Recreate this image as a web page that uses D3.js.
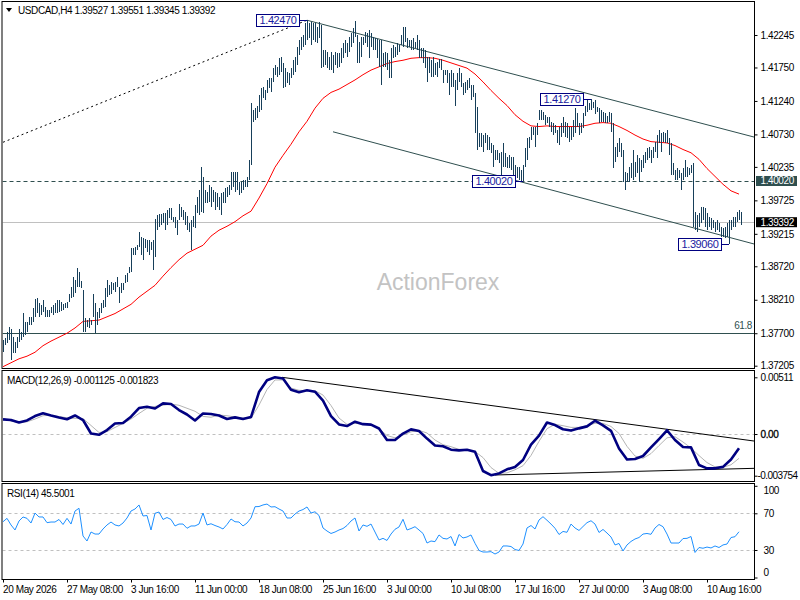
<!DOCTYPE html>
<html><head><meta charset="utf-8">
<script src="https://cdn.jsdelivr.net/npm/d3@7/dist/d3.min.js"></script>
<style>
body{margin:0;background:#fff}
text{font-family:"Liberation Sans",Arial,sans-serif;font-size:10px;letter-spacing:-0.4px}
</style></head><body>
<svg id="c" width="800" height="600"></svg>
<script>
// ---------------- DATA ----------------
const symbol = "USDCAD,H4";
const lastOHLC = ["1.39527", "1.39551", "1.39345", "1.39392"];
const lastClose = 1.39392;

// x axis labels and the bar index each one sits on
const timeLabels = ["20 May 2026","27 May 08:00","3 Jun 16:00","11 Jun 00:00","18 Jun 08:00","25 Jun 16:00","3 Jul 00:00","10 Jul 08:00","17 Jul 16:00","27 Jul 00:00","3 Aug 08:00","10 Aug 16:00"];
const timeLabelBars = [0,32,64,96,128,160,192,224,256,288,320,352];

// right-hand price axis labels
const priceTicks = [1.42245,1.41750,1.41240,1.40730,1.40235,1.39725,1.39215,1.38720,1.38210,1.37700,1.37205];

// H4 bar highs and lows (370 bars)
const highs = [
1.3760,1.3763,1.3772,1.3780,1.3776,1.3764,1.3757,1.3764,1.3776,1.3772,
1.3801,1.3787,1.3787,1.3795,1.3795,1.3808,1.3822,1.3824,1.3816,1.3813,
1.3821,1.3810,1.3805,1.3805,1.3810,1.3813,1.3816,1.3821,1.3821,1.3818,
1.3815,1.3816,1.3818,1.3830,1.3840,1.3856,1.3851,1.3869,1.3863,1.3850,
1.3836,1.3793,1.3790,1.3793,1.3790,1.3830,1.3816,1.3802,1.3808,1.3816,
1.3821,1.3839,1.3851,1.3844,1.3848,1.3847,1.3848,1.3856,1.3841,1.3847,
1.3847,1.3859,1.3862,1.3871,1.3900,1.3900,1.3901,1.3904,1.3924,1.3917,
1.3915,1.3914,1.3912,1.3912,1.3909,1.3912,1.3944,1.3950,1.3952,1.3952,
1.3953,1.3953,1.3958,1.3961,1.3961,1.3947,1.3947,1.3943,1.3967,1.3962,
1.3958,1.3955,1.3949,1.3938,1.3943,1.3949,1.3965,1.3978,1.3988,1.4023,
1.4008,1.3988,1.3985,1.3996,1.3993,1.3988,1.3985,1.3984,1.3978,1.3984,
1.3985,1.3991,1.3993,1.3996,1.4016,1.4016,1.4016,1.4016,1.4000,1.4000,
1.4003,1.4003,1.4008,1.4034,1.4121,1.4110,1.4113,1.4117,1.4133,1.4144,
1.4145,1.4141,1.4156,1.4159,1.4159,1.4174,1.4179,1.4176,1.4189,1.4191,
1.4182,1.4174,1.4168,1.4167,1.4174,1.4186,1.4191,1.4206,1.4217,1.4221,
1.4224,1.4243,1.4247,1.4243,1.4244,1.4243,1.4243,1.4237,1.4244,1.4240,
1.4202,1.4202,1.4199,1.4191,1.4199,1.4194,1.4199,1.4197,1.4197,1.4205,
1.4212,1.4217,1.4212,1.4221,1.4228,1.4235,1.4246,1.4224,1.4214,1.4221,
1.4221,1.4229,1.4228,1.4232,1.4228,1.4221,1.4220,1.4218,1.4217,1.4217,
1.4197,1.4199,1.4197,1.4186,1.4205,1.4209,1.4206,1.4212,1.4209,1.4224,
1.4237,1.4237,1.4220,1.4217,1.4217,1.4220,1.4214,1.4224,1.4217,1.4205,
1.4205,1.4202,1.4191,1.4191,1.4186,1.4191,1.4182,1.4183,1.4188,1.4188,
1.4171,1.4171,1.4171,1.4167,1.4171,1.4167,1.4156,1.4167,1.4174,1.4167,
1.4151,1.4153,1.4156,1.4159,1.4148,1.4148,1.4136,1.4115,1.4075,1.4075,
1.4072,1.4075,1.4072,1.4069,1.4060,1.4057,1.4049,1.4049,1.4045,1.4046,
1.4060,1.4045,1.4039,1.4042,1.4039,1.4039,1.4026,1.4023,1.4023,1.4019,
1.4026,1.4052,1.4068,1.4069,1.4084,1.4084,1.4084,1.4090,1.4110,1.4110,
1.4107,1.4102,1.4099,1.4099,1.4092,1.4090,1.4087,1.4080,1.4084,1.4090,
1.4099,1.4092,1.4090,1.4084,1.4084,1.4095,1.4113,1.4106,1.4090,1.4090,
1.4106,1.4117,1.4125,1.4121,1.4127,1.4122,1.4125,1.4115,1.4113,1.4110,
1.4107,1.4106,1.4101,1.4107,1.4106,1.4090,1.4054,1.4060,1.4068,1.4060,
1.4049,1.4016,1.4014,1.4023,1.4029,1.4049,1.4031,1.4042,1.4037,1.4034,
1.4042,1.4046,1.4052,1.4054,1.4049,1.4054,1.4061,1.4072,1.4080,1.4075,
1.4077,1.4075,1.4080,1.4068,1.4060,1.4029,1.4019,1.4022,1.4019,1.4014,
1.4022,1.4034,1.4023,1.4022,1.4026,1.4029,1.3955,1.3950,1.3953,1.3962,
1.3962,1.3961,1.3953,1.3947,1.3946,1.3943,1.3940,1.3943,1.3938,1.3932,
1.3930,1.3932,1.3938,1.3943,1.3943,1.3947,1.3947,1.3955,1.3958,1.39551];
const lows = [
1.3741,1.3752,1.3755,1.3760,1.3729,1.3740,1.3740,1.3747,1.3757,1.3760,
1.3764,1.3767,1.3772,1.3783,1.3783,1.3787,1.3795,1.3801,1.3795,1.3798,
1.3802,1.3795,1.3795,1.3795,1.3801,1.3798,1.3801,1.3801,1.3802,1.3804,
1.3805,1.3808,1.3808,1.3818,1.3824,1.3825,1.3831,1.3841,1.3841,1.3839,
1.3772,1.3772,1.3780,1.3778,1.3783,1.3795,1.3770,1.3783,1.3793,1.3801,
1.3808,1.3810,1.3825,1.3828,1.3830,1.3836,1.3833,1.3841,1.3816,1.3831,
1.3836,1.3847,1.3848,1.3862,1.3863,1.3889,1.3889,1.3897,1.3901,1.3889,
1.3882,1.3900,1.3894,1.3889,1.3897,1.3866,1.3886,1.3927,1.3932,1.3935,
1.3938,1.3927,1.3935,1.3946,1.3943,1.3940,1.3930,1.3920,1.3943,1.3947,
1.3943,1.3935,1.3927,1.3924,1.3897,1.3932,1.3930,1.3953,1.3950,1.3955,
1.3953,1.3968,1.3968,1.3970,1.3962,1.3970,1.3958,1.3962,1.3958,1.3950,
1.3968,1.3968,1.3978,1.3981,1.3988,1.3993,1.3985,1.3988,1.3981,1.3984,
1.3988,1.3993,1.3993,1.4003,1.4026,1.4092,1.4095,1.4098,1.4107,1.4110,
1.4128,1.4125,1.4136,1.4144,1.4138,1.4153,1.4164,1.4161,1.4164,1.4168,
1.4144,1.4145,1.4151,1.4148,1.4159,1.4164,1.4168,1.4179,1.4194,1.4202,
1.4206,1.4209,1.4217,1.4220,1.4209,1.4217,1.4214,1.4212,1.4220,1.4174,
1.4176,1.4179,1.4174,1.4171,1.4171,1.4167,1.4179,1.4174,1.4176,1.4182,
1.4189,1.4197,1.4191,1.4199,1.4206,1.4212,1.4221,1.4182,1.4182,1.4191,
1.4209,1.4212,1.4206,1.4189,1.4206,1.4202,1.4202,1.4189,1.4176,1.4148,
1.4176,1.4176,1.4171,1.4159,1.4159,1.4189,1.4191,1.4194,1.4199,1.4209,
1.4206,1.4214,1.4205,1.4206,1.4202,1.4202,1.4205,1.4202,1.4189,1.4189,
1.4182,1.4174,1.4153,1.4167,1.4161,1.4161,1.4164,1.4161,1.4174,1.4171,
1.4151,1.4164,1.4151,1.4133,1.4145,1.4145,1.4117,1.4141,1.4153,1.4145,
1.4133,1.4136,1.4141,1.4144,1.4125,1.4130,1.4075,1.4049,1.4054,1.4054,
1.4046,1.4060,1.4049,1.4049,1.4045,1.4023,1.4034,1.4034,1.4029,1.4008,
1.4023,1.4023,1.4022,1.4022,1.4019,1.4007,1.4008,1.4007,1.4004,1.4001,
1.4002,1.4023,1.4034,1.4052,1.4064,1.4072,1.4054,1.4072,1.4095,1.4095,
1.4095,1.4087,1.4090,1.4084,1.4077,1.4072,1.4075,1.4060,1.4057,1.4069,
1.4075,1.4069,1.4068,1.4061,1.4064,1.4069,1.4075,1.4084,1.4072,1.4075,
1.4083,1.4101,1.4107,1.4110,1.4110,1.4113,1.4104,1.4107,1.4090,1.4092,
1.4092,1.4090,1.4090,1.4092,1.4077,1.4022,1.4031,1.4039,1.4046,1.4039,
1.4000,1.3988,1.4000,1.4001,1.4007,1.4004,1.4008,1.4014,1.4001,1.4016,
1.4022,1.4029,1.4034,1.4037,1.4029,1.4037,1.4046,1.4037,1.4060,1.4046,
1.4061,1.4060,1.4060,1.4042,1.4011,1.4011,1.4004,1.4004,1.4007,1.3988,
1.4004,1.4008,1.4008,1.4011,1.4014,1.3932,1.3927,1.3924,1.3932,1.3938,
1.3943,1.3932,1.3927,1.3932,1.3927,1.3930,1.3924,1.3927,1.3924,1.3917,
1.3917,1.3915,1.3917,1.3906,1.3927,1.3932,1.3932,1.3940,1.3943,1.39345];

// red moving average, one value every 4 bars
const maStep = 4;
const maValues = [
1.3719,1.3725,1.3731,1.3735,1.3741,1.3751,1.3758,1.3764,1.3770,1.3778,
1.3788,1.3789,1.3790,1.3795,1.3800,1.3807,1.3814,1.3825,1.3834,1.3843,
1.3857,1.3870,1.3882,1.3892,1.3898,1.3904,1.3918,1.3927,1.3933,1.3940,
1.3949,1.3956,1.3976,1.3998,1.4023,1.4041,1.4058,1.4077,1.4093,1.4113,
1.4128,1.4137,1.4142,1.4149,1.4156,1.4164,1.4171,1.4176,1.4181,1.4184,
1.4186,1.4189,1.4190,1.4190,1.4189,1.4186,1.4182,1.4178,1.4174,1.4165,
1.4153,1.4140,1.4128,1.4117,1.4103,1.4093,1.4086,1.4085,1.4086,1.4085,
1.4085,1.4085,1.4085,1.4087,1.4090,1.4091,1.4090,1.4085,1.4079,1.4072,
1.4066,1.4062,1.4061,1.4060,1.4056,1.4050,1.4045,1.4035,1.4021,1.4009,
1.3997,1.3987,1.3982];

// MACD(12,26,9): main line and signal line, one value every 4 bars
const macdStep = 4;
const macdMain = [
0.00132,0.00126,0.00104,0.00122,0.00162,0.00187,0.00167,0.00149,0.00133,0.00167,
0.00126,0.00005,-0.00007,0.00036,0.00095,0.00099,0.00156,0.00234,0.00245,0.00230,
0.00276,0.00270,0.00216,0.00176,0.00122,0.00185,0.00180,0.00167,0.00135,0.00150,
0.00135,0.00153,0.00378,0.00484,0.00511,0.00500,0.00399,0.00377,0.00394,0.00381,
0.00300,0.00162,0.00086,0.00072,0.00111,0.00089,0.00085,0.00050,-0.00054,-0.00054,
0.00004,0.00042,0.00027,-0.00041,-0.00103,-0.00110,-0.00141,-0.00147,-0.00141,-0.00159,
-0.00333,-0.00371,-0.00355,-0.00318,-0.00297,-0.00234,-0.00096,-0.00014,0.00104,0.00081,
0.00043,0.00031,0.00051,0.00069,0.00120,0.00078,0.00029,-0.00131,-0.00230,-0.00225,
-0.00198,-0.00121,-0.00045,0.00034,-0.00054,-0.00117,-0.00120,-0.00279,-0.00309,-0.00309,
-0.00296,-0.00230,-0.00129];
const macdSignal = [
0.00141,0.00117,0.00105,0.00110,0.00135,0.00165,0.00169,0.00158,0.00146,0.00141,
0.00139,0.00077,0.00014,0.00022,0.00059,0.00095,0.00135,0.00185,0.00232,0.00249,
0.00259,0.00270,0.00259,0.00232,0.00205,0.00159,0.00151,0.00171,0.00165,0.00153,
0.00144,0.00141,0.00261,0.00401,0.00487,0.00487,0.00414,0.00394,0.00390,0.00390,
0.00351,0.00257,0.00144,0.00087,0.00096,0.00090,0.00083,0.00050,-0.00014,-0.00034,
-0.00009,0.00020,0.00033,0.00009,-0.00054,-0.00096,-0.00114,-0.00138,-0.00146,-0.00158,
-0.00212,-0.00302,-0.00354,-0.00350,-0.00322,-0.00285,-0.00193,-0.00066,0.00048,0.00088,
0.00075,0.00060,0.00060,0.00074,0.00097,0.00096,0.00068,0.00005,-0.00111,-0.00198,
-0.00219,-0.00176,-0.00104,-0.00034,-0.00024,-0.00072,-0.00126,-0.00194,-0.00257,-0.00296,
-0.00300,-0.00277,-0.00219];
const macdLabels = ["0.00511","0.00","-0.003754"];
const macdTicks = [0.00511, 0, -0.003754];
const macdHeader = "MACD(12,26,9) -0.001125 -0.001823";

// RSI(14), one value every 2 bars
const rsiStep = 2;
const rsiValues = [
60.8,64.5,57.3,51.8,61.6,66.0,64.5,59.4,70.3,66.0,
66.0,59.8,60.5,60.5,63.3,57.8,64.5,58.3,72.5,75.5,
45.3,39.8,49.6,47.4,47.4,52.9,57.3,60.5,57.3,56.2,
59.4,64.9,72.5,74.7,79.1,67.1,67.6,51.8,70.0,71.4,
63.3,65.4,63.3,56.2,58.3,58.3,53.7,56.2,56.2,58.3,
70.3,57.3,58.6,56.7,55.1,52.9,57.8,63.8,60.8,60.5,
56.2,59.4,
64.9,77.2,77.4,79.1,80.1,76.9,77.2,74.7,72.5,64.9,
64.9,69.2,72.5,74.1,76.9,70.3,71.7,67.6,54.0,50.7,
48.0,49.6,51.8,53.4,56.7,61.6,64.9,50.7,57.3,55.8,
58.3,49.6,40.9,42.7,40.4,47.4,52.6,55.1,63.5,51.8,
53.4,55.4,51.8,48.0,37.6,39.8,39.1,46.4,42.7,42.0,
44.7,34.4,46.9,43.1,44.2,46.4,37.3,29.5,27.8,27.8,
28.2,25.6,
27.8,34.4,34.4,33.8,30.5,29.5,36.5,54.0,56.7,52.9,
62.7,66.3,62.4,58.3,53.7,46.9,50.2,49.3,58.3,54.0,
51.3,55.6,59.8,61.9,58.3,49.1,52.4,48.5,44.2,35.5,
37.1,28.9,35.5,39.3,42.0,43.6,47.4,48.0,47.1,54.0,
57.8,55.4,47.4,37.6,37.6,37.6,42.5,42.7,44.7,27.3,
32.7,31.9,33.2,32.2,34.4,32.7,35.5,36.5,43.6,44.5,
49.9];
const rsiTicks = [100,70,30,0];
const rsiHeader = "RSI(14) 45.5001";

// annotated swing points: bar index, price
const swingBars = [152, 294, 260, 363];
const swingPrices = [1.42470, 1.41270, 1.40020, 1.39060];
const swingTexts = ["1.42470","1.41270","1.40020","1.39060"];

// drawn lines (bar index, value)
const dottedLine = [[0,1.4061],[152,1.4247]];
const channelUpper = [[152,1.4247],[375.5,1.4069]];
const channelLower = [[165,1.4077],[375.5,1.3906]];
const levelLine = 1.40020;     // dashed horizontal
const fibLevel = 1.37700;      // 61.8 retracement
const fibText = "61.8";
const macdUpper = [[139.5,0.00511],[375.5,-0.00063]];
const macdLower = [[246,-0.00369],[375.5,-0.00309]];

// ---------------- DRAWING ----------------
const svg = d3.select('#c');
svg.append('rect').attr('width',800).attr('height',600).attr('fill','#fff');

const LEFT = 2.5, RIGHT = 754.5;
const panels = {
  price: {top:1.5, bot:368.5},
  macd:  {top:370.5, bot:481.5},
  rsi:   {top:483.5, bot:579.5}
};

const x = d3.scaleLinear().domain([0,369]).range([3,741]);
const y = d3.scaleLinear().domain([1.37205,1.42245]).range([365.7,35]);
const ym = d3.scaleLinear().domain([-0.003754,0.00511]).range([475.7,377.3]);
const yr = d3.scaleLinear().domain([0,100]).range([577.5,485.8]);

const defs = svg.append('defs');
Object.entries(panels).forEach(([k,p])=>{
  defs.append('clipPath').attr('id','clip-'+k).append('rect')
    .attr('x',LEFT).attr('y',p.top).attr('width',RIGHT-LEFT).attr('height',p.bot-p.top);
});

const gP = svg.append('g').attr('clip-path','url(#clip-price)');
const gM = svg.append('g').attr('clip-path','url(#clip-macd)');
const gR = svg.append('g').attr('clip-path','url(#clip-rsi)');

const px = v => Math.round(v)+0.5;

// watermark
svg.append('text').attr('x',438).attr('y',290).attr('text-anchor','middle')
  .style('font-size','23px').style('letter-spacing','0px').attr('fill','#c3c3c3').text('ActionForex');

// horizontal reference lines in price panel
gP.append('line').attr('x1',LEFT).attr('x2',RIGHT).attr('y1',px(y(lastClose))).attr('y2',px(y(lastClose)))
  .attr('stroke','#c0c0c0').attr('stroke-width',1);
gP.append('line').attr('x1',LEFT).attr('x2',RIGHT).attr('y1',px(y(levelLine))).attr('y2',px(y(levelLine)))
  .attr('stroke','#2f4f4f').attr('stroke-width',1).attr('stroke-dasharray','4,3');
gP.append('line').attr('x1',LEFT).attr('x2',RIGHT).attr('y1',px(y(fibLevel))).attr('y2',px(y(fibLevel)))
  .attr('stroke','#2f4f4f').attr('stroke-width',1);
gP.append('text').attr('x',752).attr('y',y(fibLevel)-4).attr('text-anchor','end')
  .attr('fill','#2f4f4f').text(fibText);

// trend lines
const seg = (g, pts, sx, sy, color, dash) => g.append('line')
  .attr('x1',sx(pts[0][0])).attr('y1',sy(pts[0][1])).attr('x2',sx(pts[1][0])).attr('y2',sy(pts[1][1]))
  .attr('stroke',color).attr('stroke-width',1).attr('stroke-dasharray',dash||null);
seg(gP, dottedLine, x, y, '#000', '2,3');
seg(gP, channelUpper, x, y, '#2f4f4f');
seg(gP, channelLower, x, y, '#2f4f4f');

// moving average
gP.append('path').datum(maValues)
  .attr('d', d3.line().x((d,k)=>x(k*maStep)).y(d=>y(d)))
  .attr('fill','none').attr('stroke','#ff0000').attr('stroke-width',1);

// OHLC bars (high-low lines)
gP.selectAll('line.bar').data(highs.map((h,i)=>({i,h,l:lows[i]}))).join('line')
  .attr('class','bar')
  .attr('x1',d=>px(x(d.i))).attr('x2',d=>px(x(d.i)))
  .attr('y1',d=>Math.round(y(d.h))).attr('y2',d=>Math.max(Math.round(y(d.l)),Math.round(y(d.h))+2))
  .attr('stroke','#173f5a').attr('stroke-width',1).attr('shape-rendering','crispEdges');

// swing labels
swingBars.forEach((b,k)=>{
  const bx = x(b), by = y(swingPrices[k]);
  const right = bx - 8, w = 43, h = 12;
  gP.append('line').attr('x1',right).attr('x2',bx).attr('y1',px(by)).attr('y2',px(by))
    .attr('stroke','#000080').attr('stroke-width',1);
  gP.append('rect').attr('x',Math.round(right-w)+0.5).attr('y',Math.round(by-h/2)+0.5)
    .attr('width',w).attr('height',h).attr('fill','#fff').attr('stroke','#000080').attr('stroke-width',1);
  gP.append('text').attr('x',right-w/2+0.5).attr('y',by+4).attr('text-anchor','middle')
    .attr('fill','#1a1aa0').style('font-size','11px').text(swingTexts[k]);
});

// header
svg.append('path').attr('d','M6,8 L12,8 L9,12 Z').attr('fill','#000');
svg.append('text').attr('x',18).attr('y',14).attr('fill','#000')
  .text(symbol+'  '+lastOHLC.join(' '));

// MACD panel
gM.append('line').attr('x1',LEFT).attr('x2',RIGHT).attr('y1',px(ym(0))).attr('y2',px(ym(0)))
  .attr('stroke','#c0c0c0').attr('stroke-dasharray','3,3');
seg(gM, macdUpper, x, ym, '#000');
seg(gM, macdLower, x, ym, '#000');
gM.append('path').datum(macdSignal)
  .attr('d', d3.line().x((d,k)=>x(k*macdStep)).y(d=>ym(d)))
  .attr('fill','none').attr('stroke','#b4b4b4').attr('stroke-width',1);
gM.append('path').datum(macdMain)
  .attr('d', d3.line().x((d,k)=>x(k*macdStep)).y(d=>ym(d)))
  .attr('fill','none').attr('stroke','#000080').attr('stroke-width',2.6).attr('stroke-linejoin','round');
svg.append('text').attr('x',7).attr('y',383.5).attr('fill','#000').text(macdHeader);

// RSI panel
[70,30].forEach(v=>gR.append('line').attr('x1',LEFT).attr('x2',RIGHT).attr('y1',px(yr(v))).attr('y2',px(yr(v)))
  .attr('stroke','#c0c0c0').attr('stroke-dasharray','3,3'));
gR.append('path').datum(rsiValues)
  .attr('d', d3.line().x((d,k)=>x(k*rsiStep)).y(d=>yr(d)))
  .attr('fill','none').attr('stroke','#1e90ff').attr('stroke-width',1);
svg.append('text').attr('x',7).attr('y',496.5).attr('fill','#000').text(rsiHeader);

// panel frames
Object.values(panels).forEach(p=>{
  svg.append('rect').attr('x',LEFT-0.5).attr('y',p.top).attr('width',RIGHT-LEFT+0.5).attr('height',p.bot-p.top)
    .attr('fill','none').attr('stroke','#000').attr('stroke-width',1);
});

// price axis
const axP = svg.append('g').attr('transform',`translate(${RIGHT},0)`)
  .call(d3.axisRight(y).tickValues(priceTicks).tickSize(3).tickPadding(3).tickFormat(d=>d.toFixed(5)));
axP.select('.domain').remove();
axP.selectAll('text').style('font-family','"Liberation Sans",Arial,sans-serif').style('font-size','10px').attr('fill','#000');
axP.selectAll('line').attr('stroke','#000');

// highlighted price labels
const tag = (v, txt, bg) => {
  const yy = y(v);
  svg.append('rect').attr('x',756).attr('y',yy-5).attr('width',41).attr('height',10).attr('fill',bg);
  svg.append('text').attr('x',760.5).attr('y',yy+3.5).attr('fill','#fff').text(txt);
};
tag(levelLine, levelLine.toFixed(5), '#2f4f4f');
tag(lastClose, lastClose.toFixed(5), '#000');

// MACD axis
const axM = svg.append('g').attr('transform',`translate(${RIGHT},0)`)
  .call(d3.axisRight(ym).tickValues(macdTicks).tickSize(3).tickPadding(3).tickFormat((d,k)=>macdLabels[k]));
axM.select('.domain').remove();
axM.selectAll('text').style('font-family','"Liberation Sans",Arial,sans-serif').style('font-size','10px').attr('fill','#000');
axM.selectAll('.tick').filter(d=>d===0).select('text').attr('stroke','#000').attr('stroke-width',0.3);
axM.selectAll('.tick').filter(d=>d<0).select('text').attr('x',3).style('letter-spacing','-0.55px');

// RSI axis
const axR = svg.append('g').attr('transform',`translate(${RIGHT},0)`)
  .call(d3.axisRight(yr).tickValues(rsiTicks).tickSize(3).tickPadding(6).tickFormat(d=>String(d)));
axR.select('.domain').remove();
axR.selectAll('text').style('font-family','"Liberation Sans",Arial,sans-serif').style('font-size','10px').attr('fill','#000')
  .attr('dy',d=>d===100?'0.75em':d===0?'-0.25em':'0.32em');

// time axis
const axT = svg.append('g').attr('transform',`translate(0,${panels.rsi.bot})`)
  .call(d3.axisBottom(x).tickValues(timeLabelBars).tickSize(3).tickPadding(3).tickFormat((d,k)=>timeLabels[k]));
axT.select('.domain').remove();
axT.selectAll('text').style('font-family','"Liberation Sans",Arial,sans-serif').style('font-size','10px')
  .attr('text-anchor','start').attr('x',-0.5).attr('fill','#000');
axT.selectAll('line').attr('stroke','#000');
</script>
</body></html>
